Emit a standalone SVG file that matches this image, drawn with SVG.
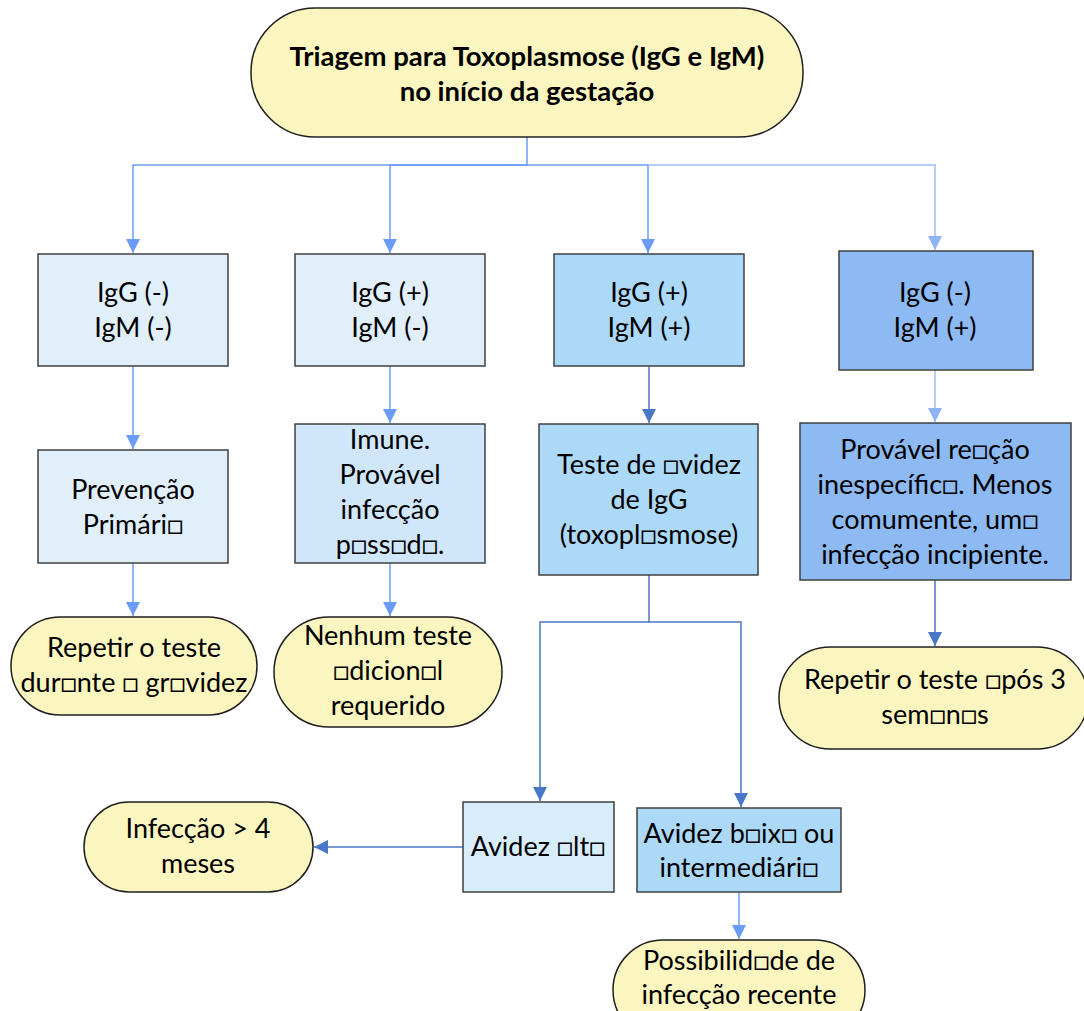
<svg xmlns="http://www.w3.org/2000/svg" width="1084" height="1011" viewBox="0 0 1084 1011">
<style>
.t{font-family:Lato,"Liberation Sans",sans-serif;font-size:27px;fill:#000;text-anchor:middle}
.b{font-weight:bold;font-size:27.5px}
.box{stroke:#404040;stroke-width:1.5}
.term{fill:#fbf6c0;stroke:#202020;stroke-width:1.5}
.l1{fill:#e1effb}.l2{fill:#d0e7fb}.l3{fill:#d8edfc}.m{fill:#acd9f8}.d{fill:#8dbaf3}
.c{fill:none;stroke-width:1.5}
.cl{stroke:#6b9cfa}.cd{stroke:#4a78c8}.cx{stroke:#9dbdf7}
</style>
<defs>
<marker id="al" markerUnits="userSpaceOnUse" markerWidth="14" markerHeight="14" refX="14" refY="7" orient="auto"><path d="M0,0 L14,7 L0,14 z" fill="#6b9cfa"/></marker>
<marker id="ad" markerUnits="userSpaceOnUse" markerWidth="14" markerHeight="14" refX="14" refY="7" orient="auto"><path d="M0,0 L14,7 L0,14 z" fill="#4a78c8"/></marker>
<marker id="ax" markerUnits="userSpaceOnUse" markerWidth="14" markerHeight="14" refX="14" refY="7" orient="auto"><path d="M0,0 L14,7 L0,14 z" fill="#8fb3f8"/></marker>
</defs>
<g id="connectors">
<path class="c cl" d="M527 137 V165 H133 V253" marker-end="url(#al)"/>
<path class="c cl" d="M527 165 H390 V253" marker-end="url(#al)"/>
<path class="c cl" d="M527 165 H648 V253" marker-end="url(#al)"/>
<path class="c cx" d="M648 165 H935 V250" marker-end="url(#ax)"/>
<path class="c cl" d="M133 366 V449" marker-end="url(#al)"/>
<path class="c cl" d="M390 366 V423" marker-end="url(#al)"/>
<path class="c cd" d="M649 366 V423" marker-end="url(#ad)"/>
<path class="c cx" d="M935 370 V422" marker-end="url(#ax)"/>
<path class="c cl" d="M133 563 V616" marker-end="url(#al)"/>
<path class="c cl" d="M390 563 V616" marker-end="url(#al)"/>
<path class="c cd" d="M935 580 V646" marker-end="url(#ad)"/>
<path class="c cd" d="M649 575 V622 H540 V801" marker-end="url(#ad)"/>
<path class="c cd" d="M649 622 H741 V807" marker-end="url(#ad)"/>
<path class="c cd" d="M463 847 H314" marker-end="url(#ad)"/>
<path class="c cl" d="M739 892 V939" marker-end="url(#al)"/>
</g>
<g id="start">
<rect class="term" x="251" y="8" width="552" height="129" rx="64" ry="64"/>
<text class="t b" x="527" y="66">Triagem para Toxoplasmose (IgG e IgM)</text>
<text class="t b" x="527" y="101">no início da gestação</text>
</g>
<g id="b1"><rect class="box l1" x="38" y="254" width="190" height="112"/>
<text class="t" x="133" y="302">IgG (-)</text><text class="t" x="133" y="337">IgM (-)</text></g>
<g id="b2"><rect class="box l1" x="295" y="254" width="190" height="112"/>
<text class="t" x="390" y="302">IgG (+)</text><text class="t" x="390" y="337">IgM (-)</text></g>
<g id="b3"><rect class="box m" x="554" y="254" width="190" height="112"/>
<text class="t" x="649" y="302">IgG (+)</text><text class="t" x="649" y="337">IgM (+)</text></g>
<g id="b4"><rect class="box d" x="839" y="251" width="194" height="119"/>
<text class="t" x="935" y="302">IgG (-)</text><text class="t" x="935" y="337">IgM (+)</text></g>
<g id="c1"><rect class="box l1" x="38" y="450" width="190" height="113"/>
<text class="t" x="133" y="499">Prevenção</text><text class="t" x="133" y="534">Primári□</text></g>
<g id="c2"><rect class="box l2" x="295" y="424" width="190" height="139"/>
<text class="t" x="390" y="449">Imune.</text><text class="t" x="390" y="484">Provável</text><text class="t" x="390" y="519">infecção</text><text class="t" x="390" y="554">p□ss□d□.</text></g>
<g id="c3"><rect class="box m" x="539" y="424" width="219" height="151"/>
<text class="t" x="649" y="474">Teste de □videz</text><text class="t" x="649" y="509">de IgG</text><text class="t" x="649" y="544">(toxopl□smose)</text></g>
<g id="c4"><rect class="box d" x="800" y="423" width="271" height="157"/>
<text class="t" x="935" y="459">Provável re□ção</text><text class="t" x="935" y="494">inespecífic□. Menos</text><text class="t" x="935" y="529">comumente, um□</text><text class="t" x="935" y="564">infecção incipiente.</text></g>
<g id="d1"><rect class="term" x="11" y="617" width="246" height="98" rx="49" ry="49"/>
<text class="t" x="134" y="657">Repetir o teste</text><text class="t" x="134" y="692">dur□nte □ gr□videz</text></g>
<g id="d2"><rect class="term" x="274" y="617" width="228" height="110" rx="55" ry="55"/>
<text class="t" x="388" y="645">Nenhum teste</text><text class="t" x="388" y="680">□dicion□l</text><text class="t" x="388" y="715">requerido</text></g>
<g id="d3"><rect class="term" x="779" y="647" width="309" height="102" rx="51" ry="51"/>
<text class="t" x="935" y="689">Repetir o teste □pós 3</text><text class="t" x="935" y="724">sem□n□s</text></g>
<g id="e1"><rect class="box l3" x="463" y="802" width="151" height="90"/>
<text class="t" x="538" y="856">Avidez □lt□</text></g>
<g id="e2"><rect class="box m" x="637" y="808" width="204" height="84"/>
<text class="t" x="739" y="843">Avidez b□ix□ ou</text><text class="t" x="739" y="877">intermediári□</text></g>
<g id="f1"><rect class="term" x="84" y="802" width="229" height="90" rx="45" ry="45"/>
<text class="t" x="198" y="838">Infecção &gt; 4</text><text class="t" x="198" y="873">meses</text></g>
<g id="f2"><rect class="term" x="613" y="940" width="252" height="100" rx="50" ry="50"/>
<text class="t" x="739" y="970">Possibilid□de de</text><text class="t" x="739" y="1004">infecção recente</text></g>
</svg>
